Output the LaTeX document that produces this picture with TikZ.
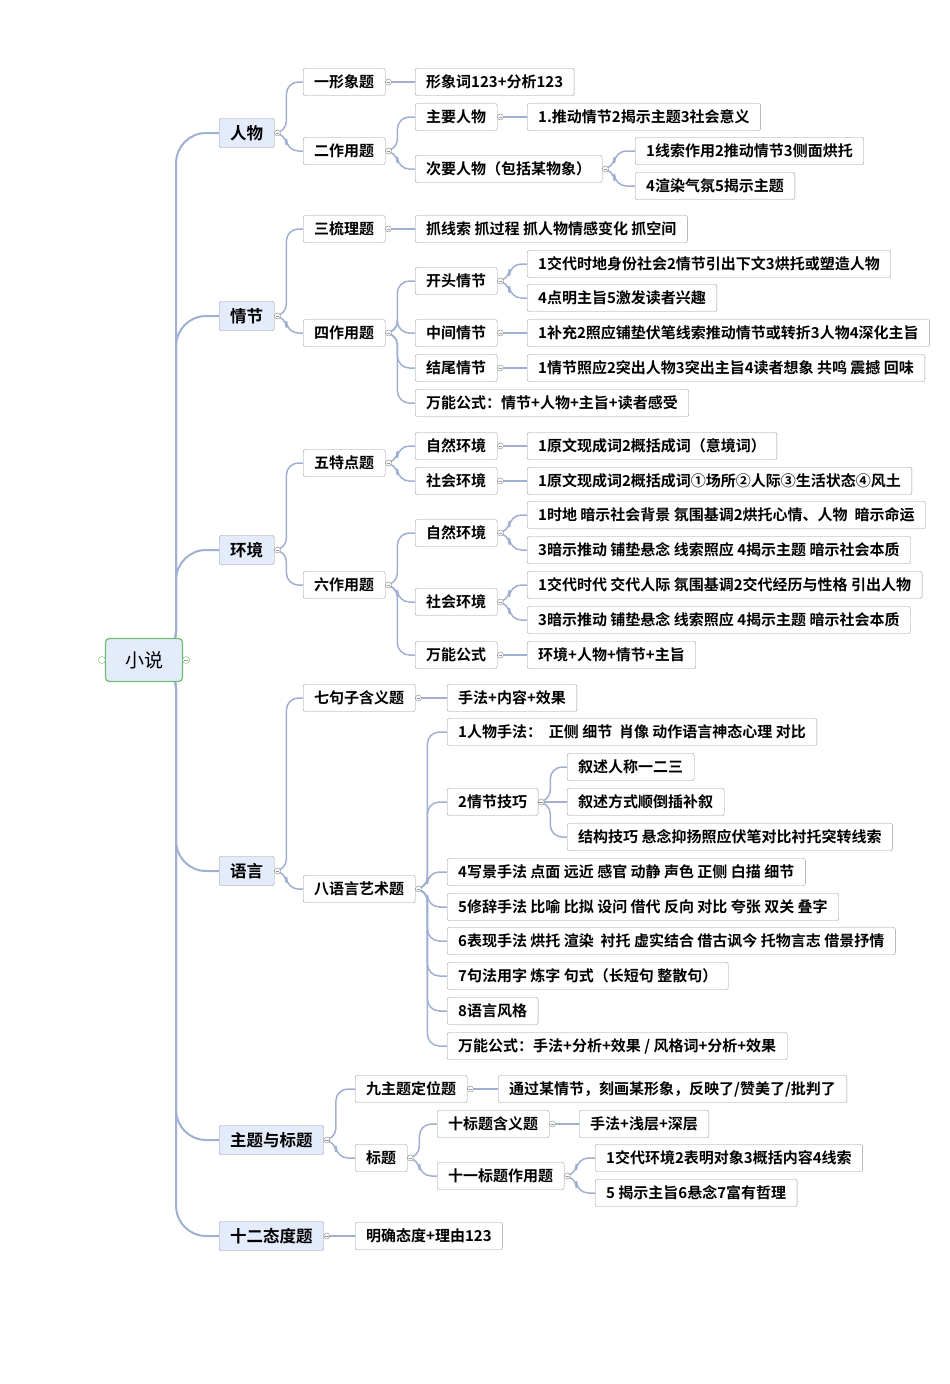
\documentclass[tikz,border=0pt]{standalone}
\usepackage{fontspec}
\setmainfont{Noto Sans CJK SC}[BoldFont={Noto Sans CJK SC Bold}]
\usetikzlibrary{backgrounds}
\definecolor{ln}{RGB}{160,176,210}
\definecolor{bd}{RGB}{150,150,150}
\definecolor{lb}{RGB}{228,236,252}
\definecolor{gr}{RGB}{110,190,110}
\tikzset{
  nd/.style={draw=bd,rounded corners=2pt,fill=white,minimum height=27pt,inner xsep=11pt,inner ysep=0pt,anchor=west,font=\bfseries\fontsize{15}{15}\selectfont},
  lv/.style={nd,fill=lb,font=\bfseries\fontsize{16.5}{16.5}\selectfont,minimum height=29pt},
  conn/.style={draw=ln,line width=1.5pt,rounded corners=12pt},
  mkc/.style={draw=bd,fill=white,line width=0.5pt}
}
\newcommand\lk[3][12]{\draw[conn] (#2.east) -- ++(#1,0) |- (#3.west);}
\newcommand\st[2]{\draw[conn] (#1.east) -- (#2.west);}
\newcommand\mk[1]{\draw[mkc] ([xshift=3pt]#1.east) circle (3pt); \draw[bd,line width=0.6pt] ([xshift=1.2pt]#1.east) -- ([xshift=4.8pt]#1.east);}
\begin{document}
\begin{tikzpicture}[x=1pt,y=-1pt]
\useasboundingbox (0,0) rectangle (950,1384);
\node[draw=gr,line width=1.2pt,fill=lb,rounded corners=4pt,minimum width=77pt,minimum height=43pt,font=\fontsize{19}{19}\selectfont] (root) at (144,660) {小说};
% level 1
\node[lv] (a) at (219,133) {人物};
\node[lv] (b) at (219,316) {情节};
\node[lv] (c) at (219,550) {环境};
\node[lv] (d) at (219,871) {语言};
\node[lv] (e) at (219,1140) {主题与标题};
\node[lv] (f) at (219,1236) {十二态度题};
% 人物
\node[nd] (a1) at (303,82) {一形象题};
\node[nd] (a1a) at (415,82) {形象词123+分析123};
\node[nd] (a2) at (303,151) {二作用题};
\node[nd] (a21) at (415,117) {主要人物};
\node[nd] (a21a) at (527,117) {1.推动情节2揭示主题3社会意义};
\node[nd] (a22) at (415,169) {次要人物（包括某物象）};
\node[nd] (a22a) at (635,151) {1线索作用2推动情节3侧面烘托};
\node[nd] (a22b) at (635,186) {4渲染气氛5揭示主题};
% 情节
\node[nd] (b1) at (303,229) {三梳理题};
\node[nd] (b1a) at (415,229) {抓线索 抓过程 抓人物情感变化 抓空间};
\node[nd] (b2) at (303,333) {四作用题};
\node[nd] (b21) at (415,281) {开头情节};
\node[nd] (b21a) at (527,264) {1交代时地身份社会2情节引出下文3烘托或塑造人物};
\node[nd] (b21b) at (527,298) {4点明主旨5激发读者兴趣};
\node[nd] (b22) at (415,333) {中间情节};
\node[nd] (b22a) at (527,333) {1补充2照应铺垫伏笔线索推动情节或转折3人物4深化主旨};
\node[nd] (b23) at (415,368) {结尾情节};
\node[nd] (b23a) at (527,368) {1情节照应2突出人物3突出主旨4读者想象 共鸣 震撼 回味};
\node[nd] (b24) at (415,403) {万能公式：情节+人物+主旨+读者感受};
% 环境
\node[nd] (c1) at (303,463) {五特点题};
\node[nd] (c11) at (415,446) {自然环境};
\node[nd] (c11a) at (527,446) {1原文现成词2概括成词（意境词）};
\node[nd] (c12) at (415,481) {社会环境};
\node[nd] (c12a) at (527,481) {1原文现成词2概括成词①场所②人际③生活状态④风土};
\node[nd] (c2) at (303,585) {六作用题};
\node[nd] (c21) at (415,533) {自然环境};
\node[nd] (c21a) at (527,515) {1时地 暗示社会背景 氛围基调2烘托心情、人物\ \ 暗示命运};
\node[nd] (c21b) at (527,550) {3暗示推动 铺垫悬念 线索照应 4揭示主题 暗示社会本质};
\node[nd] (c22) at (415,602) {社会环境};
\node[nd] (c22a) at (527,585) {1交代时代 交代人际 氛围基调2交代经历与性格 引出人物};
\node[nd] (c22b) at (527,620) {3暗示推动 铺垫悬念 线索照应 4揭示主题 暗示社会本质};
\node[nd] (c23) at (415,655) {万能公式};
\node[nd] (c23a) at (527,655) {环境+人物+情节+主旨};
% 语言
\node[nd] (d1) at (303,698) {七句子含义题};
\node[nd] (d1a) at (447,698) {手法+内容+效果};
\node[nd] (d2) at (303,889) {八语言艺术题};
\node[nd] (d21) at (447,732) {1人物手法：\ \ 正侧 细节\ \ 肖像 动作语言神态心理 对比};
\node[nd] (d22) at (447,802) {2情节技巧};
\node[nd] (d22a) at (567,767) {叙述人称一二三};
\node[nd] (d22b) at (567,802) {叙述方式顺倒插补叙};
\node[nd] (d22c) at (567,837) {结构技巧 悬念抑扬照应伏笔对比衬托突转线索};
\node[nd] (d23) at (447,872) {4写景手法 点面 远近 感官 动静 声色 正侧 白描 细节};
\node[nd] (d24) at (447,907) {5修辞手法 比喻 比拟 设问 借代 反向 对比 夸张 双关 叠字};
\node[nd] (d25) at (447,941) {6表现手法 烘托 渲染\ \ 衬托 虚实结合 借古讽今 托物言志 借景抒情};
\node[nd] (d26) at (447,976) {7句法用字 炼字 句式（长短句 整散句）};
\node[nd] (d27) at (447,1011) {8语言风格};
\node[nd] (d28) at (447,1046) {万能公式：手法+分析+效果 / 风格词+分析+效果};
% 主题与标题
\node[nd] (e1) at (355,1089) {九主题定位题};
\node[nd] (e1a) at (498,1089) {通过某情节，刻画某形象，反映了/赞美了/批判了};
\node[nd] (e2) at (355,1158) {标题};
\node[nd] (e21) at (437,1124) {十标题含义题};
\node[nd] (e21a) at (579,1124) {手法+浅层+深层};
\node[nd] (e22) at (437,1176) {十一标题作用题};
\node[nd] (e22a) at (595,1158) {1交代环境2表明对象3概括内容4线索};
\node[nd] (e22b) at (595,1193) {5 揭示主旨6悬念7富有哲理};
\node[nd] (f1) at (355,1236) {明确态度+理由123};
\begin{scope}[on background layer]
\foreach \c in {a,b,c,d,e,f}{\draw[conn,line width=2pt,rounded corners=30pt] ([xshift=-8pt]root.east) -- ++(1,0) |- (\c.west);}
\lk{a}{a1}\lk{a}{a2}\st{a1}{a1a}\lk{a2}{a21}\lk{a2}{a22}\st{a21}{a21a}\lk{a22}{a22a}\lk{a22}{a22b}
\lk{b}{b1}\lk{b}{b2}\st{b1}{b1a}\lk{b2}{b21}\lk{b2}{b22}\lk{b2}{b23}\lk{b2}{b24}
\lk{b21}{b21a}\lk{b21}{b21b}\st{b22}{b22a}\st{b23}{b23a}
\lk{c}{c1}\lk{c}{c2}\lk{c1}{c11}\lk{c1}{c12}\st{c11}{c11a}\st{c12}{c12a}
\lk{c2}{c21}\lk{c2}{c22}\lk{c2}{c23}\lk{c21}{c21a}\lk{c21}{c21b}\lk{c22}{c22a}\lk{c22}{c22b}\st{c23}{c23a}
\lk{d}{d1}\lk{d}{d2}\st{d1}{d1a}
\foreach \k in {d21,d22,d23,d24,d25,d26,d27,d28}{\lk{d2}{\k}}
\lk{d22}{d22a}\st{d22}{d22b}\lk{d22}{d22c}
\lk{e}{e1}\lk{e}{e2}\st{e1}{e1a}\lk{e2}{e21}\lk{e2}{e22}\st{e21}{e21a}\lk{e22}{e22a}\lk{e22}{e22b}
\st{f}{f1}
\end{scope}
\foreach \n in {a,a1,a2,a21,a22,b,b1,b2,b21,b22,b23,c,c1,c2,c11,c12,c21,c22,c23,d,d1,d2,d22,e,e1,e2,e21,e22,f}{\mk{\n}}
\draw[draw=gr,fill=white] ([xshift=3pt]root.east) circle (3.5pt);
\draw[draw=gr,fill=white] ([xshift=-3pt]root.west) circle (3.5pt);
\draw[bd] ([xshift=1.2pt]root.east) -- ([xshift=4.8pt]root.east);
\end{tikzpicture}
\end{document}
